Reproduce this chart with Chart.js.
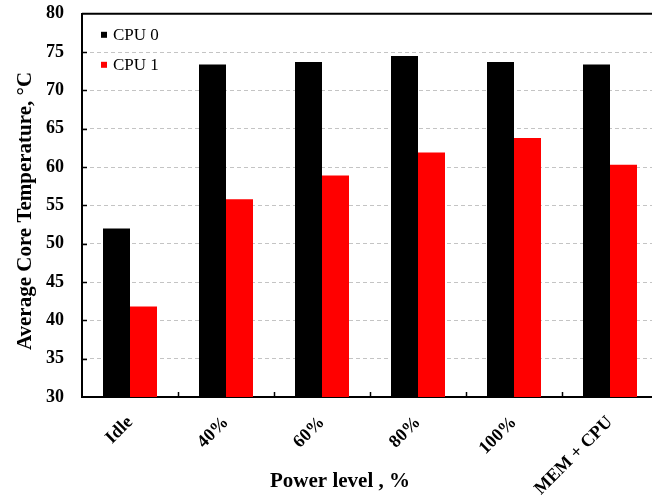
<!DOCTYPE html>
<html>
<head>
<meta charset="utf-8">
<script src="https://cdn.jsdelivr.net/npm/chart.js@4/dist/chart.umd.min.js"></script>
<style>
  html, body { margin: 0; padding: 0; background: #fff; overflow: hidden; }
  #wrap { width: 660px; height: 499px; }
</style>
</head>
<body>
<div id="wrap"><canvas id="c" width="660" height="499"></canvas></div>
<script>
// Average core temperature per power level, two CPUs
const categories = ['Idle', '40%', '60%', '80%', '100%', 'MEM + CPU'];
const cpu0 = [52.0, 73.4, 73.7, 74.5, 73.7, 73.4];
const cpu1 = [41.8, 55.8, 58.9, 61.9, 63.8, 60.3];
const seriesNames = ['CPU 0', 'CPU 1'];
const yTicks = [30, 35, 40, 45, 50, 55, 60, 65, 70, 75, 80];

const SERIF = '"Liberation Serif", "Times New Roman", serif';

// Frame, inward tick marks, legend and axis titles
const decorations = {
  id: 'decorations',
  afterDraw(chart) {
    const { ctx, chartArea: a, scales } = chart;
    const x = scales.x, y = scales.y;
    ctx.save();
    ctx.strokeStyle = '#000';
    ctx.lineWidth = 2;
    // top frame line
    ctx.beginPath();
    ctx.moveTo(a.left, a.top);
    ctx.lineTo(a.right, a.top);
    ctx.stroke();
    // y ticks pointing inside
    ctx.lineWidth = 1.5;
    yTicks.forEach(v => {
      if (v === 30 || v === 80) return;
      const py = Math.round(y.getPixelForValue(v)) + 0.5;
      ctx.beginPath();
      ctx.moveTo(a.left, py);
      ctx.lineTo(a.left + 5, py);
      ctx.stroke();
    });
    // x ticks at category boundaries, pointing up
    for (let i = 1; i < categories.length; i++) {
      const px = Math.round((x.getPixelForValue(i - 1) + x.getPixelForValue(i)) / 2) + 0.5;
      ctx.beginPath();
      ctx.moveTo(px, a.bottom);
      ctx.lineTo(px, a.bottom - 5);
      ctx.stroke();
    }
    // legend
    ctx.font = '17px ' + SERIF;
    ctx.textBaseline = 'middle';
    ctx.textAlign = 'left';
    chart.data.datasets.forEach((ds, i) => {
      const cy = a.top + 21 + i * 30;
      ctx.fillStyle = ds.backgroundColor;
      ctx.fillRect(a.left + 19, cy - 3, 6, 6);
      ctx.fillStyle = '#000';
      ctx.fillText(ds.label, a.left + 31, cy + 1);
    });
    // axis titles
    ctx.font = 'bold 21px ' + SERIF;
    ctx.textAlign = 'center';
    ctx.fillStyle = '#000';
    ctx.fillText('Power level , %', 340, 482);
    ctx.translate(26, 211);
    ctx.rotate(-Math.PI / 2);
    ctx.fillText('Average Core Temperature, \u00B0C', 0, 0);
    ctx.restore();
  }
};

new Chart(document.getElementById('c'), {
  type: 'bar',
  data: {
    labels: categories,
    datasets: [
      { label: seriesNames[0], data: cpu0, backgroundColor: '#000000' },
      { label: seriesNames[1], data: cpu1, backgroundColor: '#ff0000' }
    ]
  },
  options: {
    responsive: false,
    animation: false,
    events: [],
    layout: { padding: { top: 0, right: 2, left: 0, bottom: 0 } },
    datasets: { bar: { categoryPercentage: 0.5625, barPercentage: 1 } },
    plugins: { legend: { display: false }, tooltip: { enabled: false } },
    scales: {
      x: {
        grid: { display: false },
        border: { display: true, color: '#000', width: 2 },
        ticks: {
          color: '#000',
          font: { family: SERIF, size: 18, weight: 'bold' },
          minRotation: 45,
          maxRotation: 45,
          padding: 7
        },
        afterFit(s) { s.height = 102; }
      },
      y: {
        min: 30,
        max: 80,
        afterBuildTicks(s) { s.ticks = yTicks.map(v => ({ value: v })); },
        grid: {
          drawTicks: true,
          tickLength: 15,
          tickColor: 'rgba(0,0,0,0)',
          color: c => (c.tick && (c.tick.value === 30 || c.tick.value === 80)) ? 'rgba(0,0,0,0)' : '#c4c4c4',
          lineWidth: 1
        },
        border: { display: true, color: '#000', width: 2, dash: [4, 3] },
        ticks: {
          color: '#000',
          font: { family: SERIF, size: 18, weight: 'bold' },
          padding: 3
        },
        afterFit(s) { s.width = 82; }
      }
    }
  },
  plugins: [decorations]
});
</script>
</body>
</html>
